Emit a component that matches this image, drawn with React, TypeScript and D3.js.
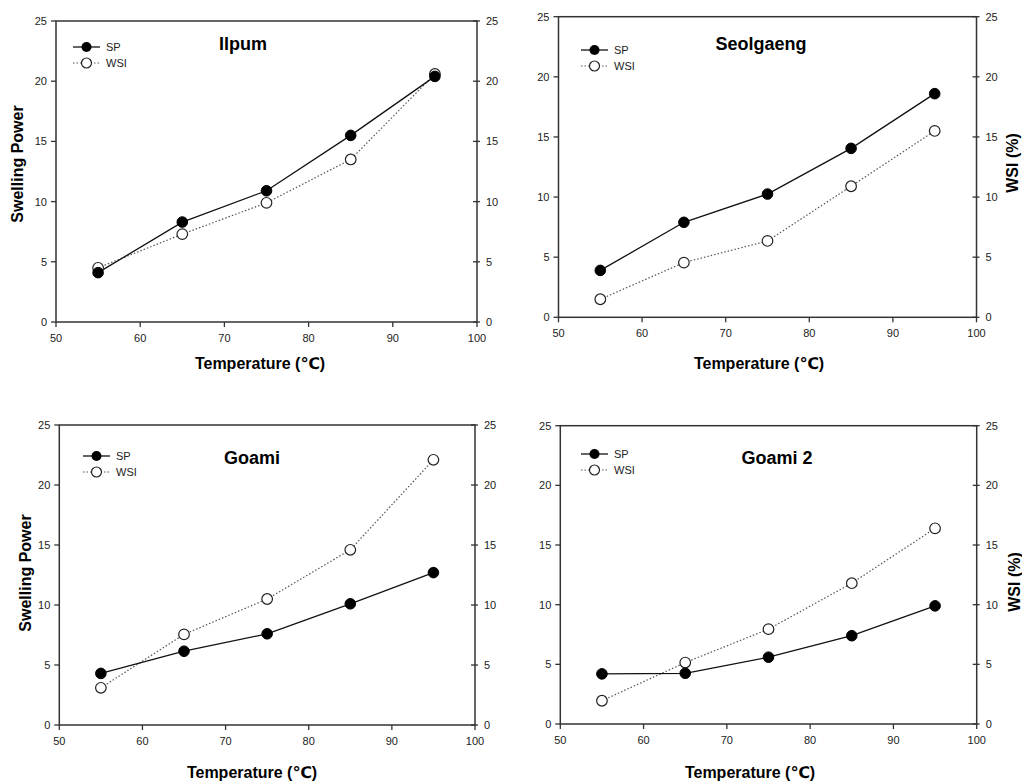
import React from "react";
import * as d3 from "d3";

const temperatures = [55, 65, 75, 85, 95];
const xTicks = [50, 60, 70, 80, 90, 100];
const yTicks = [0, 5, 10, 15, 20, 25];

const panelNames = ["Ilpum", "Seolgaeng", "Goami", "Goami 2"];
const spIlpum = [4.1, 8.3, 10.9, 15.5, 20.4];
const wsiIlpum = [4.5, 7.3, 9.9, 13.5, 20.6];
const spSeolgaeng = [3.9, 7.9, 10.25, 14.05, 18.6];
const wsiSeolgaeng = [1.5, 4.55, 6.35, 10.9, 15.5];
const spGoami = [4.3, 6.15, 7.6, 10.1, 12.7];
const wsiGoami = [3.1, 7.55, 10.5, 14.6, 22.1];
const spGoami2 = [4.2, 4.25, 5.6, 7.4, 9.9];
const wsiGoami2 = [1.95, 5.15, 7.95, 11.8, 16.4];

const seriesLabels = ["SP", "WSI"];
const xTitle = "Temperature (℃)";
const yLeftTitle = "Swelling Power";
const yRightTitle = "WSI (%)";

const layouts = [
  { x0: 56, x1: 477, y0: 21, y1: 322, tx: 243, ty: 44, lx: 73, ly: 47, xtx: 260, xty: 363, left: 17, right: null, sy: 164 },
  { x0: 558.5, x1: 976.5, y0: 16.7, y1: 317.3, tx: 761, ty: 44, lx: 581, ly: 50, xtx: 759, xty: 363, left: null, right: 1012, sy: 163 },
  { x0: 59.3, x1: 475, y0: 425, y1: 725, tx: 252, ty: 458, lx: 83, ly: 456, xtx: 252, xty: 772, left: 25, right: null, sy: 573 },
  { x0: 560.3, x1: 976.7, y0: 425.7, y1: 724, tx: 777, ty: 458, lx: 581, ly: 454, xtx: 750, xty: 772, left: null, right: 1014, sy: 582 },
];

const panelData = [
  [spIlpum, wsiIlpum],
  [spSeolgaeng, wsiSeolgaeng],
  [spGoami, wsiGoami],
  [spGoami2, wsiGoami2],
];

const FONT = "'Liberation Sans', Arial, 'DejaVu Sans', sans-serif";
const AX = "#333";

function Panel({ idx }: { idx: number }) {
  const L = layouts[idx];
  const [sp, wsi] = panelData[idx];
  const x = d3.scaleLinear().domain([50, 100]).range([L.x0, L.x1]);
  const y = d3.scaleLinear().domain([0, 25]).range([L.y1, L.y0]);
  const line = d3
    .line<number>()
    .x((_, i) => x(temperatures[i]))
    .y((d) => y(d));
  return (
    <g>
      <rect x={L.x0} y={L.y0} width={L.x1 - L.x0} height={L.y1 - L.y0} fill="none" stroke={AX} strokeWidth={1.5} />
      {yTicks.map((t) => (
        <g key={"l" + t}>
          <line x1={L.x0 - 5} x2={L.x0} y1={y(t)} y2={y(t)} stroke={AX} strokeWidth={1.3} />
          <text x={L.x0 - 9} y={y(t)} textAnchor="end" dominantBaseline="central" fontSize={11} fontFamily={FONT} fill="#222">
            {t}
          </text>
        </g>
      ))}
      {yTicks.map((t) => (
        <g key={"r" + t}>
          <line x1={L.x1 - 4} x2={L.x1 + 3} y1={y(t)} y2={y(t)} stroke={AX} strokeWidth={1.3} />
          <text x={L.x1 + 9} y={y(t)} textAnchor="start" dominantBaseline="central" fontSize={11} fontFamily={FONT} fill="#222">
            {t}
          </text>
        </g>
      ))}
      {xTicks.map((t) => (
        <g key={"b" + t}>
          <line x1={x(t)} x2={x(t)} y1={L.y1} y2={L.y1 + 5} stroke={AX} strokeWidth={1.3} />
          <text x={x(t)} y={L.y1 + 16} textAnchor="middle" dominantBaseline="central" fontSize={11} fontFamily={FONT} fill="#222">
            {t}
          </text>
        </g>
      ))}
      <path d={line(wsi) || ""} fill="none" stroke="#555" strokeWidth={1.2} strokeDasharray="1.5,2" />
      <path d={line(sp) || ""} fill="none" stroke="#111" strokeWidth={1.3} />
      {wsi.map((v, i) => (
        <circle key={"w" + i} cx={x(temperatures[i])} cy={y(v)} r={5.3} fill="#fff" stroke="#222" strokeWidth={1.2} />
      ))}
      {sp.map((v, i) => (
        <circle key={"s" + i} cx={x(temperatures[i])} cy={y(v)} r={5.3} fill="#000" stroke="#000" strokeWidth={1} />
      ))}
      <line x1={L.lx} x2={L.lx + 27} y1={L.ly} y2={L.ly} stroke="#111" strokeWidth={1.3} />
      <circle cx={L.lx + 13.5} cy={L.ly} r={5} fill="#000" />
      <text x={L.lx + 33} y={L.ly} dominantBaseline="central" fontSize={11} fontFamily={FONT} fill="#222">
        {seriesLabels[0]}
      </text>
      <line x1={L.lx} x2={L.lx + 27} y1={L.ly + 16} y2={L.ly + 16} stroke="#555" strokeWidth={1.2} strokeDasharray="1.5,2" />
      <circle cx={L.lx + 13.5} cy={L.ly + 16} r={5} fill="#fff" stroke="#222" strokeWidth={1.2} />
      <text x={L.lx + 33} y={L.ly + 16} dominantBaseline="central" fontSize={11} fontFamily={FONT} fill="#222">
        {seriesLabels[1]}
      </text>
      <text x={L.tx} y={L.ty} textAnchor="middle" dominantBaseline="central" fontSize={18} fontWeight="bold" fontFamily={FONT} fill="#000">
        {panelNames[idx]}
      </text>
      <text x={L.xtx} y={L.xty} textAnchor="middle" dominantBaseline="central" fontSize={16} fontWeight="bold" fontFamily={FONT} fill="#000">
        {xTitle}
      </text>
      {L.left !== null && (
        <text
          transform={`translate(${L.left},${L.sy}) rotate(-90)`}
          textAnchor="middle"
          dominantBaseline="central"
          fontSize={16}
          fontWeight="bold"
          fontFamily={FONT}
          fill="#000"
        >
          {yLeftTitle}
        </text>
      )}
      {L.right !== null && (
        <text
          transform={`translate(${L.right},${L.sy}) rotate(-90)`}
          textAnchor="middle"
          dominantBaseline="central"
          fontSize={16}
          fontWeight="bold"
          fontFamily={FONT}
          fill="#000"
        >
          {yRightTitle}
        </text>
      )}
    </g>
  );
}

export default function App() {
  return (
    <svg width={1022} height={783} style={{ position: "absolute", left: 0, top: 0, background: "#fff" }}>
      <rect x={0} y={0} width={1022} height={783} fill="#fff" />
      {layouts.map((_, i) => (
        <Panel key={i} idx={i} />
      ))}
    </svg>
  );
}
